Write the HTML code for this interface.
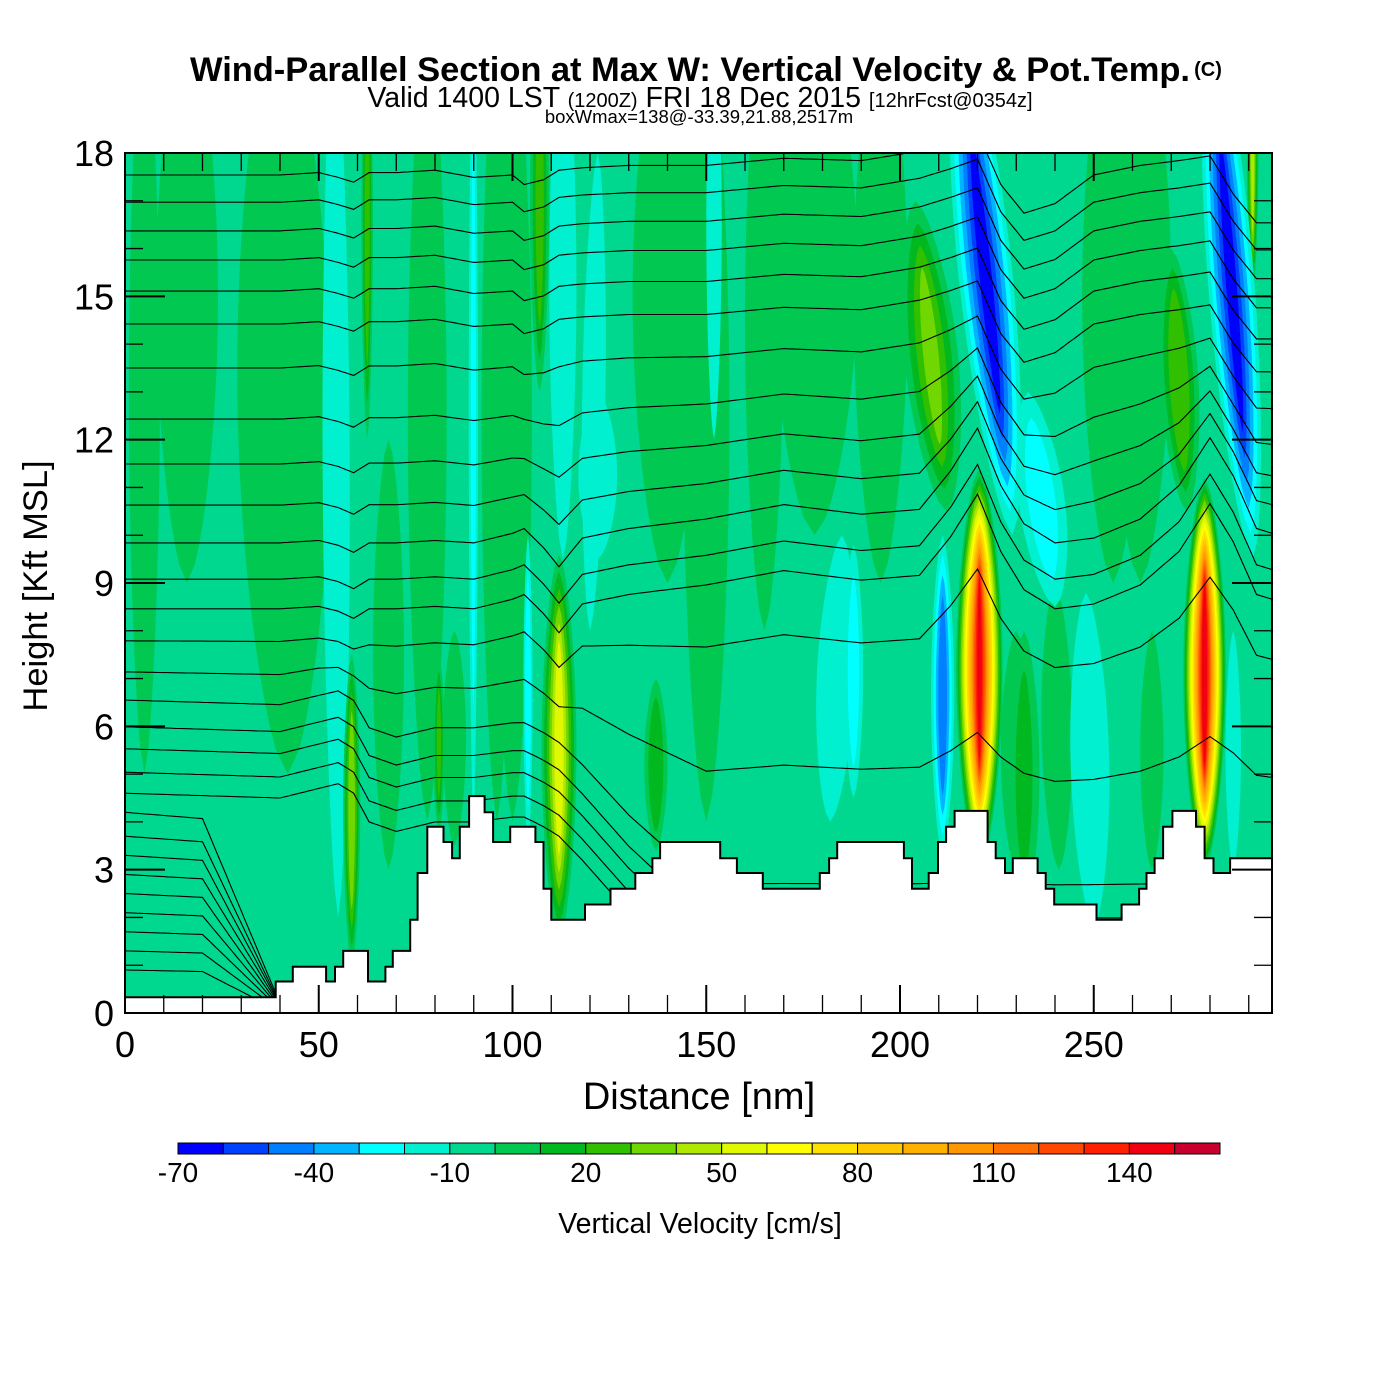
<!DOCTYPE html>
<html><head><meta charset="utf-8"><style>
html,body{margin:0;padding:0;background:#fff;}
svg{display:block;font-family:"Liberation Sans",Arial,sans-serif;}
</style></head><body>
<svg id="chart" width="1400" height="1400" viewBox="0 0 1400 1400" xmlns="http://www.w3.org/2000/svg">
<defs><clipPath id="plotClip"><rect x="125" y="153" width="1147" height="860"/></clipPath></defs>
<rect x="0" y="0" width="1400" height="1400" fill="#fff"/>
<text x="690" y="81" text-anchor="middle" font-size="34.5" font-weight="bold" textLength="1000">Wind-Parallel Section at Max W: Vertical Velocity &amp; Pot.Temp.</text>
<text x="1208" y="76" text-anchor="middle" font-size="20" font-weight="bold">(C)</text>
<text x="700" y="107" text-anchor="middle" font-size="28.5">Valid 1400 LST <tspan font-size="20">(1200Z)</tspan> FRI 18 Dec 2015 <tspan font-size="20">[12hrFcst@0354z]</tspan></text>
<text x="699" y="123" text-anchor="middle" font-size="18.5">boxWmax=138@-33.39,21.88,2517m</text>
<g id="plot" clip-path="url(#plotClip)">
<rect x="125" y="153" width="1147" height="860" fill="#00d890"/>
<g id="field"></g>
<g id="contours" fill="none" stroke="#000" stroke-width="1.1"></g>
<g id="terrain"></g>
</g>
<g id="axes"></g>
<text x="699" y="1109" text-anchor="middle" font-size="38">Distance [nm]</text>
<text transform="translate(47,586) rotate(-90)" text-anchor="middle" font-size="34.5">Height [Kft MSL]</text>
<g id="colorbar"></g>
<text x="700" y="1233" text-anchor="middle" font-size="28.5">Vertical Velocity [cm/s]</text>
</svg>
<script>
// ---- data ----
const levelColors = ["#0000ff","#0040ff","#0080ff","#00b4ff","#00ffff","#00f0d0","#00d890","#00c850","#00b820","#30c000","#70d800","#b0e800","#e0f800","#ffff00","#ffe000","#ffc800","#ffb000","#ff9800","#ff7000","#ff4800","#ff2000","#f00010","#c80030"];
const colorbarTicks = [-70,-40,-10,20,50,80,110,140];
const xTicks = [0,50,100,150,200,250];
const yTicks = [0,3,6,9,12,15,18];
const terrEdges = [0,38.9,43.3,51.9,54.2,56.3,62.7,67.2,69.1,73.6,75.5,78.0,82.2,84.4,86.4,88.8,92.8,95.0,99.4,105.9,108.0,110.0,118.7,125.3,131.7,136.1,138.1,153.6,157.9,164.6,179.3,181.7,183.8,201.0,203.1,207.4,209.8,211.9,214.1,222.6,224.7,227.1,229.1,235.5,237.6,239.8,250.7,257.2,261.7,263.6,265.7,267.9,270.3,276.4,278.6,280.9,285.2,296];
const terrHeights = [0.33,0.66,0.97,0.66,0.97,1.3,0.66,0.97,1.3,1.95,2.93,3.9,3.58,3.24,3.9,4.54,4.2,3.58,3.9,3.58,2.6,1.95,2.27,2.6,2.93,3.24,3.58,3.24,2.93,2.6,2.93,3.24,3.58,3.24,2.6,2.93,3.58,3.9,4.23,3.58,3.24,2.93,3.24,2.93,2.6,2.27,1.95,2.27,2.6,2.93,3.24,3.9,4.23,3.9,3.24,2.93,3.24];
// features: bottom distance, bottom height, top distance, top height, half-width (nm), peak value (cm/s)
const featD0 = [16,42,78,96,140,178,195,255,241,265,232,85, 5,100,150,165,230,262,68, 55,89.9,113,122,104,188,182,211,250,286,240,229,291,152,120, 62.5,58.5,81,107,112,137,212,274,291, 220.5,278.6];
const featH0 = [9,5,4,4,9,10,9,9,3,3,2,3.5, 5,4,4,8,3,9,3, 2,4,9.5,9.5,3.5,4.5,4,3.3,1.8,3,8.5,10,9.5,12,8, 12,1.0,3.8,13,1.5,3.4,10.5,10.5,15, 3,3];
const featD1 = [16,40,78,96,140,178,195,255,240,265,232,85, 5,100,150,165,230,262,68, 54,89.9,113,122,104,188,185,211,248,286,233,215,280,152,122, 62.5,58.5,81,107,112,137,204,270,291, 220.5,278.6];
const featH1 = [21,21,21,21,21,21,21,21,9,8,8,8, 21,21,21,21,8,21,12, 21,21,21,13,10,9.8,10,10,8.8,8,13,21,21,21,18, 21,7.5,7.5,21,9.6,7,17,16,21, 11.4,11.2];
const featW = [8,12,5,4,9,11,7,8,4,3,4,3, 4,5,6,5,4,8,4, 3.5,1.2,3.5,5,1.2,2.5,5,3,5,2,6,7,6,2,3, 1.5,2.2,1.5,2.5,4.5,3,7,5,1.5, 6,5.5];
const featV = [5,5,8,5,8,8,5,8,8,8,12,5, 5,5,5,5,5,8,5, -15,-22,-15,-12,-25,-25,-15,-48,-18,-12,-25,-65,-65,-12,-12, 25,40,22,25,58,18,32,30,45, 145,150];
// potential temperature contours: left-edge heights (kft), offsets by distance
const contBase = [17.54,16.97,16.37,15.76,15.11,14.42,13.5,12.43,11.49,10.63,9.84,9.08,8.46,7.79,7.14,6.55,5.99,5.53,5.04,4.6,4.2,3.7,3.3,2.9,2.5,2.1,1.7,1.3,0.9];
const contDist = [0,20,40,50,55,59,63,70,80,90,100,103,108,112,118,130,150,170,190,205,213,220,226,232,240,250,262,272,280,286,292,296];
const offUpper = [0,0,0,0.05,-0.05,-0.15,0.05,0.05,0.1,-0.05,0,-0.2,-0.1,0.1,0.15,0.2,0.2,0.35,0.3,0.5,0.7,0.9,-0.2,-0.8,-0.6,0,0.2,0.3,0.4,-0.4,-1.0,-1.0];
const offMid = [0,0,0,0.05,-0.05,-0.2,0,0,0.05,0,0.2,0.3,-0.1,-0.5,0.1,0.3,0.5,0.8,0.6,0.7,1.5,2.4,1.2,0.4,0,0.1,0.5,1.2,2.2,1.4,0.3,0.2];
const offLow = [0,-0.05,-0.1,0.1,0.2,0,-0.6,-0.8,-0.6,-0.6,-0.5,-0.5,-0.7,-0.9,-1.4,-2.5,-4,-4,-4,-4,-4,-4,-4,-4,-4,-4,-4,-4,-4,-4,-4,-4];
const lowScale = [1,0.97,0.05,0.05,0.05,0.05,0.05,0.05,0.05,0.05,0.05,0.05,0.05,0.05,0.05,0.05,0.05,0.05,0.05,0.05,0.05,0.05,0.05,0.05,0.05,0.05,0.05,0.05,0.05,0.05,0.05,0.05];

// ---- scales ----
const NS='http://www.w3.org/2000/svg';
function X(d){return 125+d*1147/296;}
function Y(h){return 1013-h*860/18;}
function mk(tag,attrs,parent){const e=document.createElementNS(NS,tag);for(const k in attrs)e.setAttribute(k,attrs[k]);parent.appendChild(e);return e;}
function interp(xs,ys,x){if(x<=xs[0])return ys[0];for(let i=1;i<xs.length;i++){if(x<=xs[i]){const t=(x-xs[i-1])/(xs[i]-xs[i-1]);return ys[i-1]+t*(ys[i]-ys[i-1]);}}return ys[ys.length-1];}

// ---- field ----
const field=document.getElementById('field');
const order=featV.map((v,i)=>i).sort((a,b)=>Math.abs(featV[a])-Math.abs(featV[b]));
order.forEach(i=>{
  const v=featV[i];
  const x0=X(featD0[i]),y0=Y(featH0[i]),x1=X(featD1[i]),y1=Y(featH1[i]);
  const mx=(x0+x1)/2,my=(y0+y1)/2;
  const wpx=featW[i]*1147/296;
  const shells=[];
  if(v>0){for(let L=0;L<v;L+=10)shells.push({s:1-L/(v+10),idx:(L+70)/10});}
  else{for(let U=-10;U>v;U-=10)shells.push({s:1-(Math.abs(U)-10)/Math.abs(v),idx:(U-10+70)/10});}
  shells.forEach(sh=>{
    const sL=0.4+0.6*sh.s;
    const ax=mx+(x0-mx)*sL,ay=my+(y0-my)*sL,bx=mx+(x1-mx)*sL,by=my+(y1-my)*sL;
    const left=[],right=[];
    for(let k=0;k<=30;k++){const t=k/30;const cx=ax+(bx-ax)*t,cy=ay+(by-ay)*t;const hw=wpx*sh.s*Math.pow(Math.sin(Math.PI*t),0.6);
      left.push((cx-hw).toFixed(1)+','+cy.toFixed(1));right.unshift((cx+hw).toFixed(1)+','+cy.toFixed(1));}
    const p=mk('polygon',{points:left.concat(right).join(' '),fill:levelColors[Math.max(0,Math.min(22,sh.idx))]},field);
    
    
  });
});

// ---- contours ----
const cg=document.getElementById('contours');
contBase.forEach(b=>{
  const pts=[];
  for(let d=0;d<=296;d+=1){
    let h;
    if(b<4.4){h=b*interp(contDist,lowScale,d)+interp(contDist,offLow,d)*0.1;}
    else{
      const ou=interp(contDist,offUpper,d),om=interp(contDist,offMid,d),ol=interp(contDist,offLow,d);
      let o;
      if(b>=14)o=ou;else if(b>=10){const t=(b-10)/4;o=om*(1-t)+ou*t;}
      else if(b>=8)o=om;else if(b>=6.5){const t=(b-6.5)/1.5;o=ol*(1-t)+om*t;}else o=ol;
      h=b+o;
    }
    pts.push(X(d).toFixed(1)+','+Y(h).toFixed(1));
  }
  const pl=mk('polyline',{points:pts.join(' ')},cg);
  
  
});

// ---- terrain ----
const tg=document.getElementById('terrain');
let tp=[X(0)+','+Y(-1)];
for(let i=0;i<terrHeights.length;i++){tp.push(X(terrEdges[i]).toFixed(1)+','+Y(terrHeights[i]).toFixed(1));tp.push(X(terrEdges[i+1]).toFixed(1)+','+Y(terrHeights[i]).toFixed(1));}
const topLine=tp.slice(1).join(' ');
tp.push(X(296)+','+Y(-1));
const tpoly=mk('polygon',{points:tp.join(' '),fill:'#fff'},tg);


const tline=mk('polyline',{points:topLine,fill:'none',stroke:'#000','stroke-width':2},tg);



// ---- axes ----
const ag=document.getElementById('axes');
const frame=mk('rect',{x:125,y:153,width:1147,height:860,fill:'none',stroke:'#000','stroke-width':2},ag);


for(let d=0;d<=290;d+=10){
  const major=d%50===0;const len=major?28:18;
  const t1=mk('line',{x1:X(d),y1:1013,x2:X(d),y2:1013-len,stroke:'#000','stroke-width':major?2:1.3},ag);
  
  
  const t2=mk('line',{x1:X(d),y1:153,x2:X(d),y2:153+len,stroke:'#000','stroke-width':major?2:1.3},ag);
  
  
}
xTicks.forEach(v=>{const t=mk('text',{x:X(v),y:1057,'text-anchor':'middle','font-size':36},ag);t.textContent=v;
  
  });
for(let h=0;h<=18;h+=1){
  const major=h%3===0;const len=major?40:18;
  const t1=mk('line',{x1:125,y1:Y(h),x2:125+len,y2:Y(h),stroke:'#000','stroke-width':major?2:1.3},ag);
  
  
  const t2=mk('line',{x1:1272,y1:Y(h),x2:1272-len,y2:Y(h),stroke:'#000','stroke-width':major?2:1.3},ag);
  
  
}
yTicks.forEach(v=>{const t=mk('text',{x:114,y:Y(v)+13,'text-anchor':'end','font-size':36},ag);t.textContent=v;
  
  });

// ---- colorbar ----
const cb=document.getElementById('colorbar');
const cbx0=178,cbw=1042/levelColors.length;
levelColors.forEach((c,i)=>{const r=mk('rect',{x:cbx0+i*cbw,y:1143,width:cbw,height:11,fill:c,stroke:'#000','stroke-width':1},cb);
  
  });
colorbarTicks.forEach(v=>{const t=mk('text',{x:cbx0+(v+70)/10*cbw,y:1182,'text-anchor':'middle','font-size':28},cb);t.textContent=v;
  
  });
</script>
</body></html>
